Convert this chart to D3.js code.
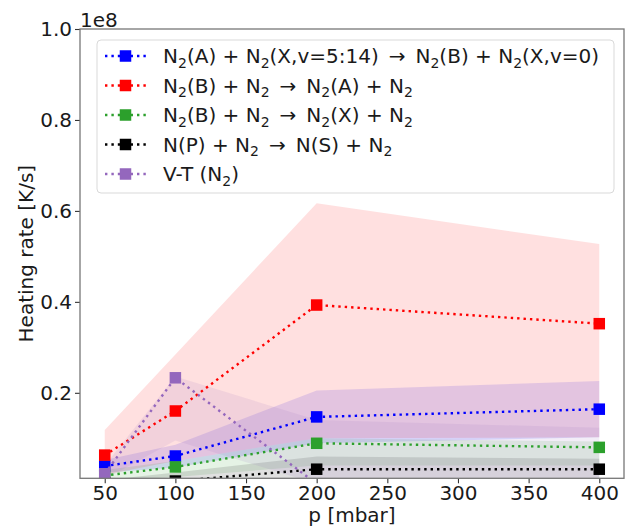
<!DOCTYPE html>
<html>
<head>
<meta charset="utf-8">
<script src="https://cdn.jsdelivr.net/npm/d3@7"></script>
<style>
  body { margin: 0; background: #fff; }
  text { font-family: "DejaVu Sans", sans-serif; }
</style>
</head>
<body>
<svg id="chart" width="629" height="530"></svg>
<script>
// Pressure (mbar)
const pressures = [50, 100, 200, 400];

// Heating rates, in units of 1e8 K/s
const rateAX   = [0.039, 0.061, 0.147, 0.164]; // N2(A) + N2(X,v=5:14)
const rateBA   = [0.063, 0.160, 0.393, 0.352]; // N2(B) + N2 -> N2(A)
const rateBX   = [0.018, 0.037, 0.089, 0.080]; // N2(B) + N2 -> N2(X)
const ratePS   = [0.002, 0.006, 0.032, 0.032]; // N(P) + N2 -> N(S)
const rateVT   = [0.022, 0.233, 0.000, 0.000]; // V-T (N2)

// Uncertainty bands (lower / upper), same units
const lowAX  = [0.024, 0.036, 0.089, 0.102];
const highAX = [0.052, 0.086, 0.205, 0.226];
const lowBA  = [0.020, 0.050, 0.100, 0.102];
const highBA = [0.118, 0.284, 0.617, 0.527];
const lowBX  = [0.005, 0.015, 0.040, 0.040];
const highBX = [0.030, 0.050, 0.100, 0.093];
const lowPS  = [0.000, 0.000, 0.000, 0.000];
const highPS = [0.008, 0.025, 0.060, 0.055];
const lowVT  = [0.010, 0.095, 0.000, 0.000];
const highVT = [0.040, 0.236, 0.140, 0.123];

// Legend labels (₂ is drawn as a subscript 2)
const labels = [
  "N₂(A) + N₂(X,v=5:14) → N₂(B) + N₂(X,v=0)",
  "N₂(B) + N₂ → N₂(A) + N₂",
  "N₂(B) + N₂ → N₂(X) + N₂",
  "N(P) + N₂ → N(S) + N₂",
  "V-T (N₂)"
];
const colors = ["#0000ff", "#ff0000", "#2ca02c", "#000000", "#9467bd"];

const xTicks = [50, 100, 150, 200, 250, 300, 350, 400];
const yTicks = [0.2, 0.4, 0.6, 0.8, 1.0];

const series = [
  { values: rateAX, low: lowAX, high: highAX },
  { values: rateBA, low: lowBA, high: highBA },
  { values: rateBX, low: lowBX, high: highBX },
  { values: ratePS, low: lowPS, high: highPS },
  { values: rateVT, low: lowVT, high: highVT }
].map((s, i) => ({ ...s, label: labels[i], color: colors[i] }));

const svg = d3.select("#chart");
const plot = { left: 80, right: 624, top: 29, bottom: 478.3 };

const x = d3.scaleLinear().domain([32.5, 417.5]).range([plot.left, plot.right]);
const y = d3.scaleLinear().domain([0.012, 1.0]).range([plot.bottom, plot.top]);

svg.append("defs").append("clipPath").attr("id", "plotClip")
  .append("rect")
  .attr("x", plot.left).attr("y", plot.top)
  .attr("width", plot.right - plot.left).attr("height", plot.bottom - plot.top);

const body = svg.append("g").attr("clip-path", "url(#plotClip)");

// Shaded bands underneath everything
const area = d3.area()
  .x((d, i) => x(pressures[i]))
  .y0(d => y(d[0]))
  .y1(d => y(d[1]));

series.forEach(s => {
  const pts = pressures.map((p, i) => [s.low[i], s.high[i]]);
  body.append("path")
    .attr("d", area(pts))
    .attr("fill", s.color)
    .attr("fill-opacity", 0.12)
    .attr("stroke", "none");
});

// Dotted lines with square markers
const line = d3.line()
  .x((d, i) => x(pressures[i]))
  .y(d => y(d));

const mk = 11.5;
series.forEach(s => {
  body.append("path")
    .attr("d", line(s.values))
    .attr("fill", "none")
    .attr("stroke", s.color)
    .attr("stroke-width", 2.4)
    .attr("stroke-dasharray", "2.4,4");
  body.selectAll(null)
    .data(s.values)
    .enter().append("rect")
    .attr("x", (d, i) => x(pressures[i]) - mk / 2)
    .attr("y", d => y(d) - mk / 2)
    .attr("width", mk).attr("height", mk)
    .attr("fill", s.color);
});

// Axes
const gx = svg.append("g")
  .attr("transform", `translate(0,${plot.bottom})`)
  .call(d3.axisBottom(x).tickValues(xTicks).tickSize(5).tickPadding(2.5).tickFormat(d3.format("d")));
const gy = svg.append("g")
  .attr("transform", `translate(${plot.left},0)`)
  .call(d3.axisLeft(y).tickValues(yTicks).tickSize(5).tickPadding(3).tickFormat(d3.format(".1f")));

[gx, gy].forEach(g => {
  g.select(".domain").remove();
  g.selectAll(".tick line").attr("stroke", "#333").attr("stroke-width", 1.1);
  g.selectAll(".tick text")
    .attr("fill", "#1a1a1a")
    .style("font-size", "20px")
    .style("font-family", "'DejaVu Sans', sans-serif");
});

// Frame
svg.append("rect")
  .attr("x", plot.left).attr("y", plot.top)
  .attr("width", plot.right - plot.left).attr("height", plot.bottom - plot.top)
  .attr("fill", "none").attr("stroke", "#777").attr("stroke-width", 1.3);

// Offset label and axis titles
svg.append("text").attr("x", plot.left).attr("y", 27)
  .style("font-size", "20px").attr("fill", "#1a1a1a").text("1e8");

svg.append("text")
  .attr("x", (plot.left + plot.right) / 2).attr("y", 522)
  .attr("text-anchor", "middle")
  .style("font-size", "20px").attr("fill", "#1a1a1a")
  .text("p [mbar]");

svg.append("text")
  .attr("transform", `translate(33,${(plot.top + plot.bottom) / 2}) rotate(-90)`)
  .attr("text-anchor", "middle")
  .style("font-size", "20px").attr("fill", "#1a1a1a")
  .text("Heating rate [K/s]");

// Legend
const legend = svg.append("g");
legend.append("rect")
  .attr("x", 97).attr("y", 40).attr("width", 517).attr("height", 153)
  .attr("rx", 4).attr("ry", 4)
  .attr("fill", "#fff").attr("fill-opacity", 0.85)
  .attr("stroke", "#d9d9d9").attr("stroke-width", 1);

// Writes a label, turning ₂ into a lowered small "2" and
// giving the reaction arrow relation-style spacing
function writeLabel(sel, str) {
  const parts = str.replace(/ → /g, "\u2002→\u2002").split("₂");
  parts.forEach((p, i) => {
    if (p.length) {
      const t = sel.append("tspan").text(p);
      if (i > 0) t.attr("dy", -4.5);
    }
    if (i < parts.length - 1) {
      sel.append("tspan").text("2").style("font-size", "14px").attr("dy", 4.5);
    }
  });
}

series.forEach((s, i) => {
  const cy = 56 + i * 29.5;
  const row = legend.append("g");
  row.append("line")
    .attr("x1", 105).attr("x2", 146).attr("y1", cy).attr("y2", cy)
    .attr("stroke", s.color).attr("stroke-width", 2.4)
    .attr("stroke-dasharray", "2.4,4");
  row.append("rect")
    .attr("x", 125.5 - mk / 2).attr("y", cy - mk / 2)
    .attr("width", mk).attr("height", mk).attr("fill", s.color);
  const t = row.append("text")
    .attr("x", 163).attr("y", cy + 7.3)
    .style("font-size", "20px").attr("fill", "#1a1a1a");
  writeLabel(t, s.label);
});
</script>
</body>
</html>
